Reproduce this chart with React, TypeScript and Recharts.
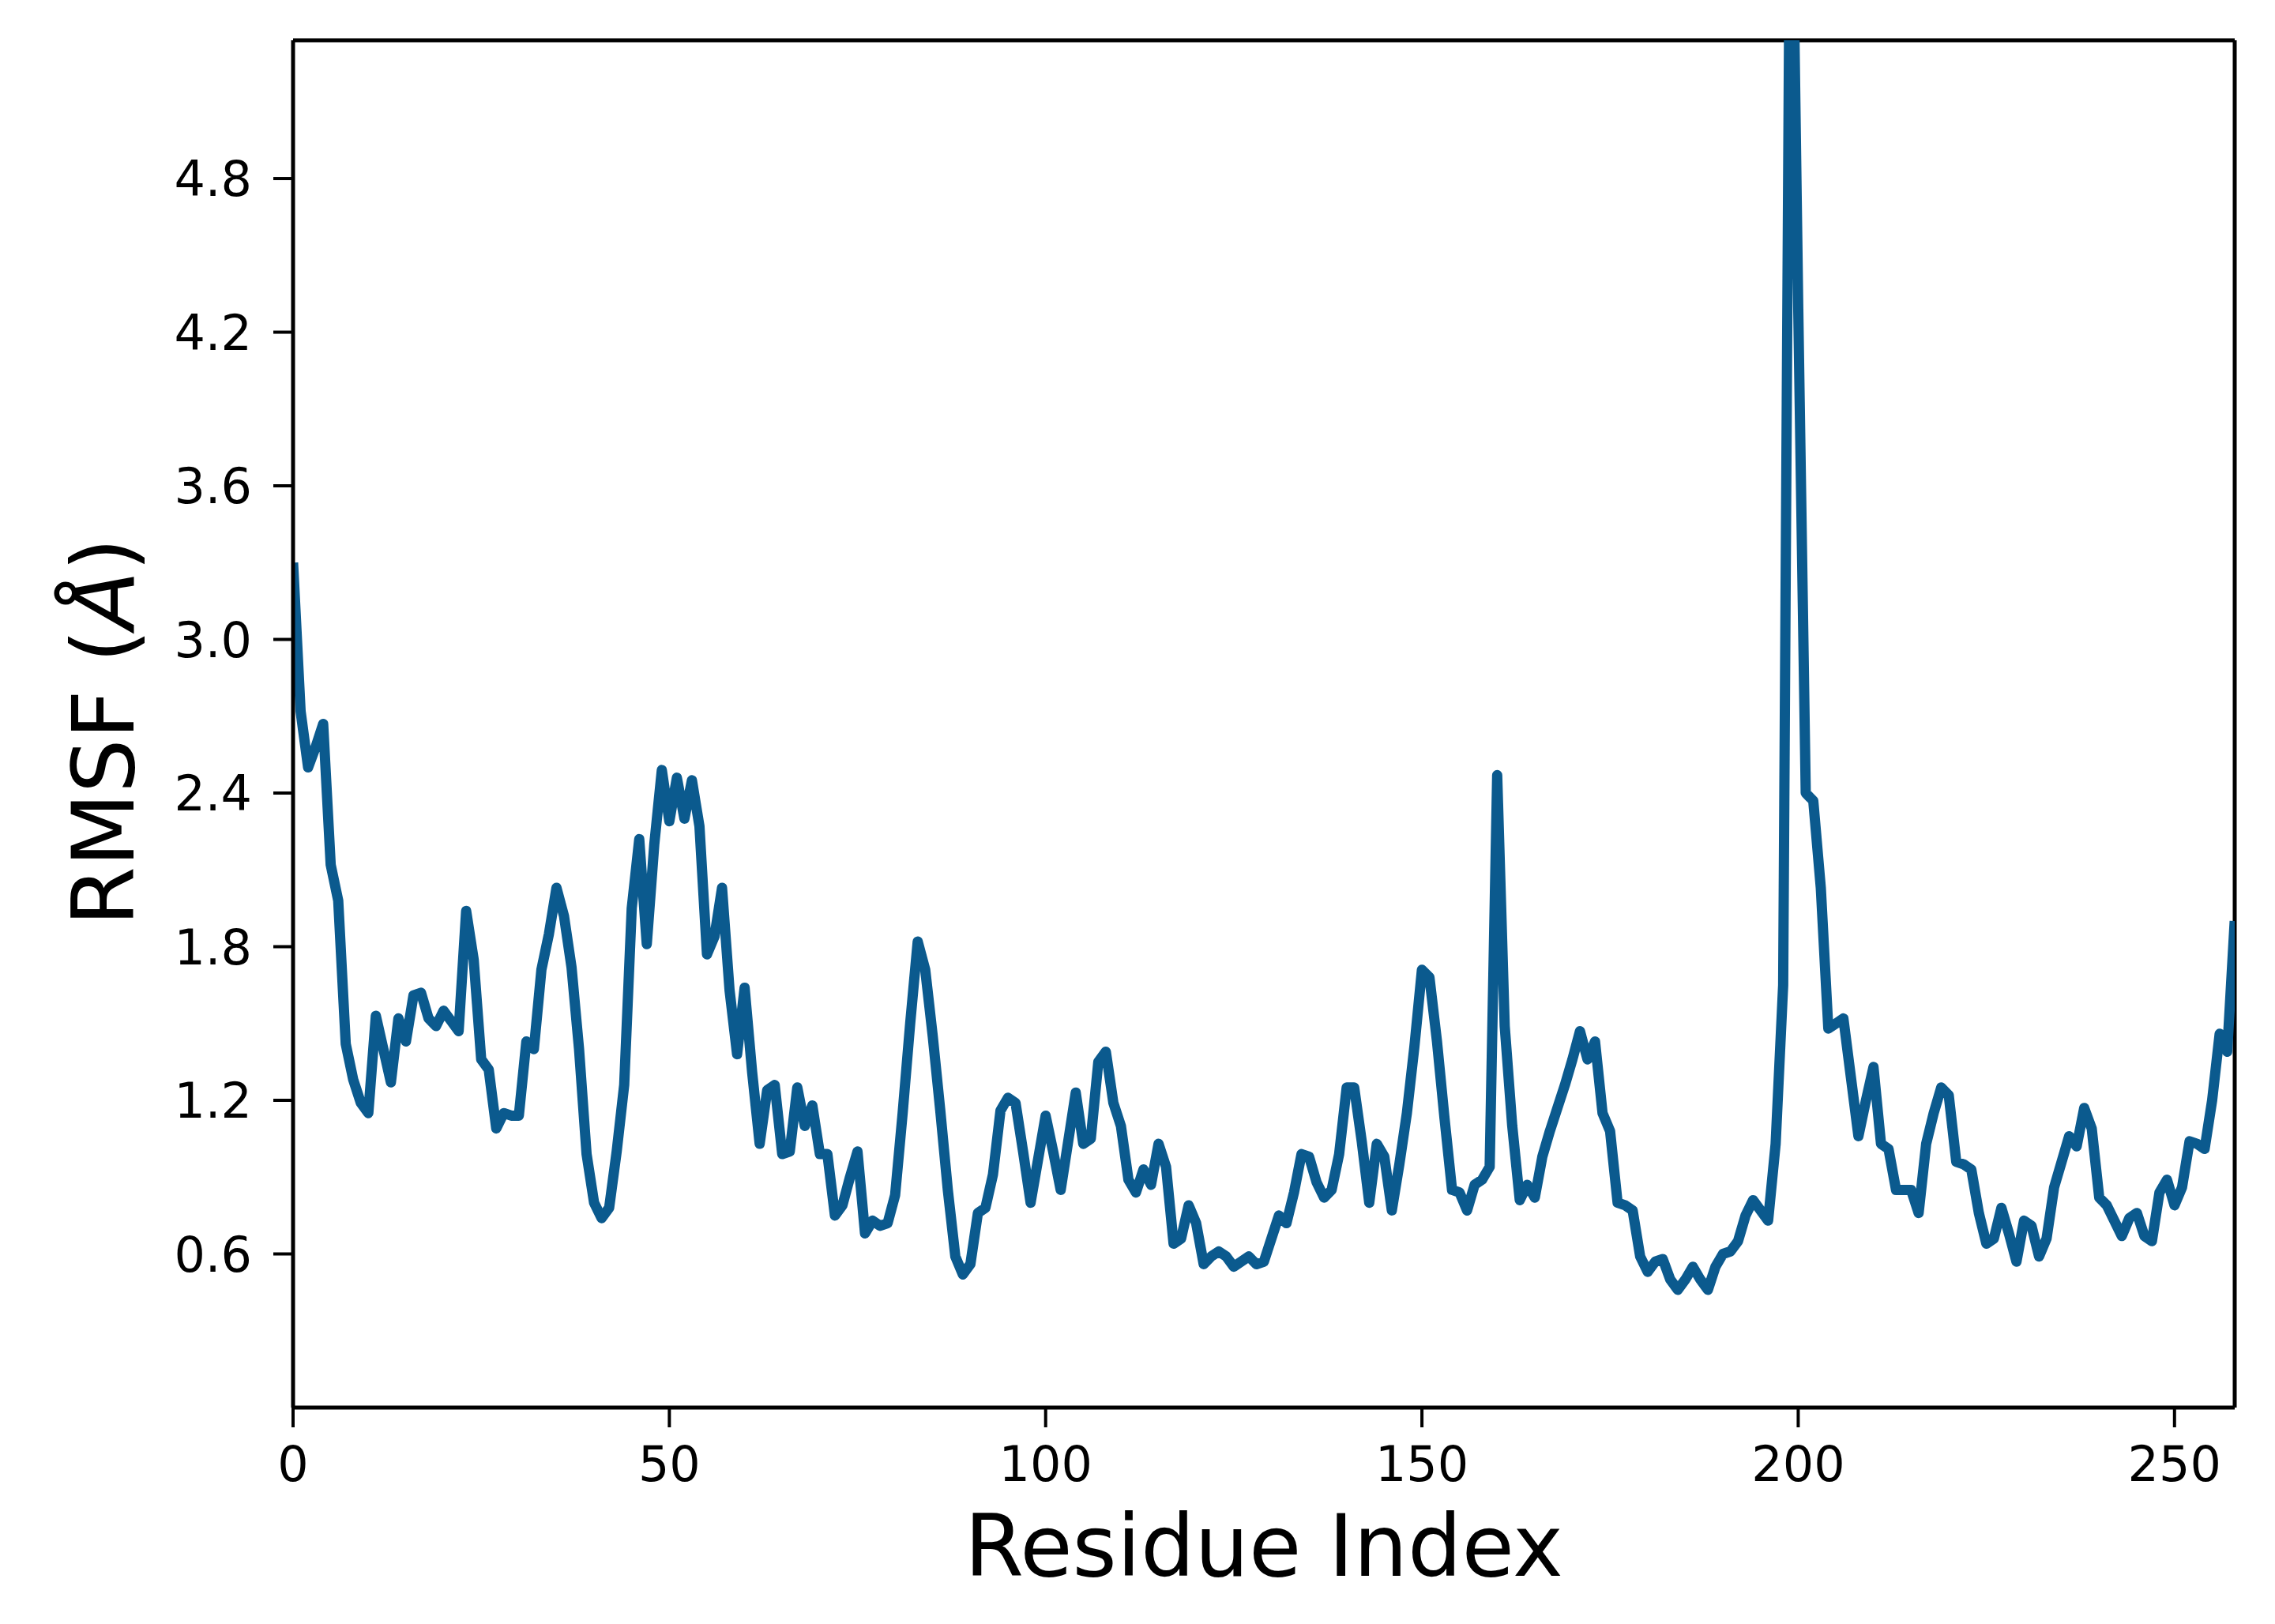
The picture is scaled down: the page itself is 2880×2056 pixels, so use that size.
import React from 'react';
import { LineChart, Line, XAxis, YAxis, ReferenceLine } from 'recharts';

// RMSF per residue (Å), residue 0..258
const rmsf = [
  3.30, 2.72, 2.50, 2.58, 2.67, 2.12, 1.98, 1.42, 1.28, 1.19,
  1.15, 1.53, 1.40, 1.27, 1.52, 1.43, 1.61, 1.62, 1.52, 1.49,
  1.55, 1.51, 1.47, 1.94, 1.75, 1.36, 1.32, 1.09, 1.15, 1.14,
  1.14, 1.43, 1.40, 1.71, 1.85, 2.03, 1.92, 1.72, 1.40, 0.99,
  0.80, 0.74, 0.78, 1.00, 1.26, 1.95, 2.22, 1.81, 2.20, 2.49,
  2.29, 2.46, 2.30, 2.45, 2.27, 1.77, 1.84, 2.03, 1.63, 1.38,
  1.64, 1.31, 1.03, 1.24, 1.26, 0.99, 1.00, 1.25, 1.10, 1.18,
  0.99, 0.99, 0.75, 0.79, 0.90, 1.00, 0.68, 0.73, 0.71, 0.72,
  0.83, 1.15, 1.50, 1.82, 1.71, 1.45, 1.16, 0.85, 0.59, 0.52,
  0.56, 0.76, 0.78, 0.91, 1.16, 1.21, 1.19, 1.00, 0.80, 0.97,
  1.14, 1.00, 0.85, 1.04, 1.23, 1.03, 1.05, 1.35, 1.39, 1.19,
  1.10, 0.89, 0.84, 0.93, 0.87, 1.03, 0.94, 0.64, 0.66, 0.79,
  0.72, 0.56, 0.59, 0.61, 0.59, 0.55, 0.57, 0.59, 0.56, 0.57,
  0.66, 0.75, 0.72, 0.84, 0.99, 0.98, 0.88, 0.82, 0.85, 0.99,
  1.25, 1.25, 1.04, 0.80, 1.03, 0.98, 0.77, 0.95, 1.15, 1.41,
  1.71, 1.68, 1.43, 1.13, 0.85, 0.84, 0.77, 0.87, 0.89, 0.94,
  2.47, 1.49, 1.10, 0.81, 0.87, 0.82, 0.98, 1.08, 1.17, 1.26,
  1.36, 1.47, 1.36, 1.43, 1.15, 1.08, 0.80, 0.79, 0.77, 0.59,
  0.53, 0.57, 0.58, 0.50, 0.46, 0.50, 0.55, 0.50, 0.46, 0.55,
  0.60, 0.61, 0.65, 0.75, 0.81, 0.77, 0.73, 1.03, 1.65, 6.40,
  4.30, 2.40, 2.37, 2.03, 1.48, 1.50, 1.52, 1.29, 1.06, 1.20,
  1.33, 1.03, 1.01, 0.85, 0.85, 0.85, 0.76, 1.03, 1.15, 1.25,
  1.22, 0.96, 0.95, 0.93, 0.76, 0.64, 0.66, 0.78, 0.68, 0.57,
  0.73, 0.71, 0.59, 0.66, 0.86, 0.96, 1.06, 1.02, 1.17, 1.09,
  0.82, 0.79, 0.73, 0.67, 0.74, 0.76, 0.67, 0.65, 0.84, 0.89,
  0.79, 0.86, 1.04, 1.03, 1.01, 1.20, 1.46, 1.39, 1.90,
];

const xTicks = [0, 50, 100, 150, 200, 250];
const yTicks = [0.6, 1.2, 1.8, 2.4, 3.0, 3.6, 4.2, 4.8];
const xDomain: [number, number] = [0, 258];
const yDomain: [number, number] = [0, 5.34];

const data = rmsf.map((v, i) => ({ residue: i, rmsf: v }));

const W = 2880;
const H = 2056;
const PLOT_LEFT = 371;
const PLOT_TOP = 51;
const PLOT_RIGHT = 2829;
const PLOT_BOTTOM = 1782;

const FONT = '"DejaVu Sans", sans-serif';
const LINE_COLOR = '#0b5a8e';
const spine = { stroke: '#000', strokeWidth: 5 };
const tickLine = { stroke: '#000', strokeWidth: 4 };
const tickStyle = { fontSize: 62, fill: '#000', fontFamily: FONT };

const XTitle = () => (
  <text
    x={(PLOT_LEFT + PLOT_RIGHT) / 2}
    y={1995}
    textAnchor="middle"
    fontSize={108}
    fontFamily={FONT}
    fill="#000"
  >
    Residue Index
  </text>
);

const YTitle = () => {
  const x = 131;
  const y = (PLOT_TOP + PLOT_BOTTOM) / 2 + 10;
  return (
    <text
      x={x}
      y={y}
      transform={`rotate(-90 ${x} ${y})`}
      textAnchor="middle"
      dominantBaseline="central"
      fontSize={108}
      fontFamily={FONT}
      fill="#000"
    >
      RMSF (<tspan fontStyle="italic">Å</tspan>)
    </text>
  );
};

export default function App() {
  return (
    <div style={{ position: 'absolute', left: 0, top: 0, width: W, height: H, background: '#fff' }}>
      <LineChart
        width={W}
        height={H}
        data={data}
        margin={{ top: PLOT_TOP, right: W - PLOT_RIGHT, bottom: 0, left: 0 }}
      >
        <XAxis
          dataKey="residue"
          type="number"
          domain={xDomain}
          ticks={xTicks}
          allowDataOverflow
          height={H - PLOT_BOTTOM}
          axisLine={spine}
          tickLine={tickLine}
          tickSize={25}
          tickMargin={24}
          tick={tickStyle}
          label={XTitle}
        />
        <YAxis
          type="number"
          domain={yDomain}
          ticks={yTicks}
          allowDataOverflow
          width={PLOT_LEFT}
          axisLine={spine}
          tickLine={tickLine}
          tickSize={25}
          tickMargin={27}
          tick={tickStyle}
          tickFormatter={(v: number) => v.toFixed(1)}
          label={YTitle}
        />
        {/* top and right spines */}
        <ReferenceLine y={yDomain[1]} stroke="#000" strokeWidth={5} ifOverflow="visible" />
        <ReferenceLine x={xDomain[1]} stroke="#000" strokeWidth={5} ifOverflow="visible" />
        <Line
          type="linear"
          dataKey="rmsf"
          stroke={LINE_COLOR}
          strokeWidth={13}
          strokeLinejoin="round"
          dot={false}
          isAnimationActive={false}
        />
      </LineChart>
    </div>
  );
}
